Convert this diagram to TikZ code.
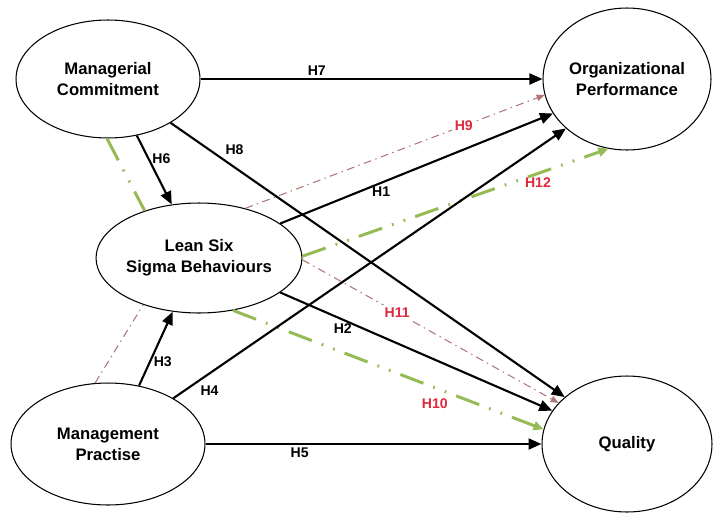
\documentclass[tikz,border=0pt]{standalone}
\usepackage{fontspec}
\setmainfont{Liberation Sans}
\usetikzlibrary{shapes.geometric, arrows.meta}
\definecolor{pathgreen}{RGB}{150,186,84}
\definecolor{pathred}{RGB}{176,118,118}
\definecolor{hypred}{RGB}{222,40,60}
\tikzset{
  construct/.style = {
    ellipse, draw=black, line width=0.6pt, fill=white,
    inner sep=0pt, align=center,
    font=\fontsize{9.5}{12}\selectfont\bfseries
  },
  direct/.style = {-{Triangle[length=2.6mm,width=2.2mm]}, line width=1.2pt},
  medgreen/.style = {
    pathgreen, line width=1.7pt,
    dash pattern=on 14pt off 6pt on 1pt off 6pt on 1pt off 6pt
  },
  medred/.style = {
    pathred, line width=0.6pt,
    dash pattern=on 4.5pt off 2.5pt on 0.8pt off 2.5pt
  },
  greenhead/.style = {-{Triangle[length=2mm,width=1.8mm]}},
  redhead/.style = {-{Triangle[length=1.6mm,width=1.3mm]}},
  hyp/.style = {font=\fontsize{8}{9}\selectfont\bfseries, inner sep=1.5pt},
  hypm/.style = {hyp, text=hypred}
}
\begin{document}
\begin{tikzpicture}[x=0.02cm, y=-0.02cm]
  \useasboundingbox (0,0) rectangle (713,514);

  \node[construct, minimum width=3.68cm, minimum height=2.36cm] (mc)  at (108,79)  {Managerial\\Commitment};
  \node[construct, minimum width=4.12cm, minimum height=2.2cm]  (lss) at (199,258) {Lean Six\\Sigma Behaviours};
  \node[construct, minimum width=3.36cm, minimum height=2.84cm] (op)  at (627,79)  {Organizational\\Performance};
  \node[construct, minimum width=3.88cm, minimum height=2.44cm] (mp)  at (108,444) {Management\\Practise};
  \node[construct, minimum width=3.4cm,  minimum height=2.72cm] (q)   at (627,444) {Quality};

  % mediated paths
  \draw[medred] (mp.102) -- (lss.220);
  \draw[medred, redhead] (lss.47) -- node[hypm, pos=0.73, fill=white] {H9} (op.191);
  \draw[medred, redhead] (lss.-1) -- node[hypm, pos=0.37, fill=white] {H11} (q.149);
  \draw[medgreen] (mc.269) -- (lss.139);
  \draw[medgreen, greenhead] (lss.1) -- node[hypm, pos=0.77, below] {H12} (op.-105);
  \draw[medgreen, greenhead] (lss.-57) -- node[hypm, pos=0.65, below=4pt] {H10} (q.170);

  % direct paths
  \draw[direct] (mc.east) -- node[hyp, pos=0.34, above] {H7} (op.west);
  \draw[direct] (mc.-35)  -- node[hyp, pos=0.13, above right] {H8} (q.143);
  \draw[direct] (mc.-63)  -- node[hyp, pos=0.34, right] {H6} (lss.117);
  \draw[direct] (lss.23)  -- node[hyp, pos=0.37, below] {H1} (op.-155);
  \draw[direct] (lss.-23) -- node[hyp, pos=0.23, below] {H2} (q.156);
  \draw[direct] (mp.62)   -- node[hyp, pos=0.33, right] {H3} (lss.-116);
  \draw[direct] (mp.35)   -- node[hyp, pos=0.06, below right] {H4} (op.-141);
  \draw[direct] (mp.east) -- node[hyp, pos=0.28, below] {H5} (q.west);

\end{tikzpicture}
\end{document}
